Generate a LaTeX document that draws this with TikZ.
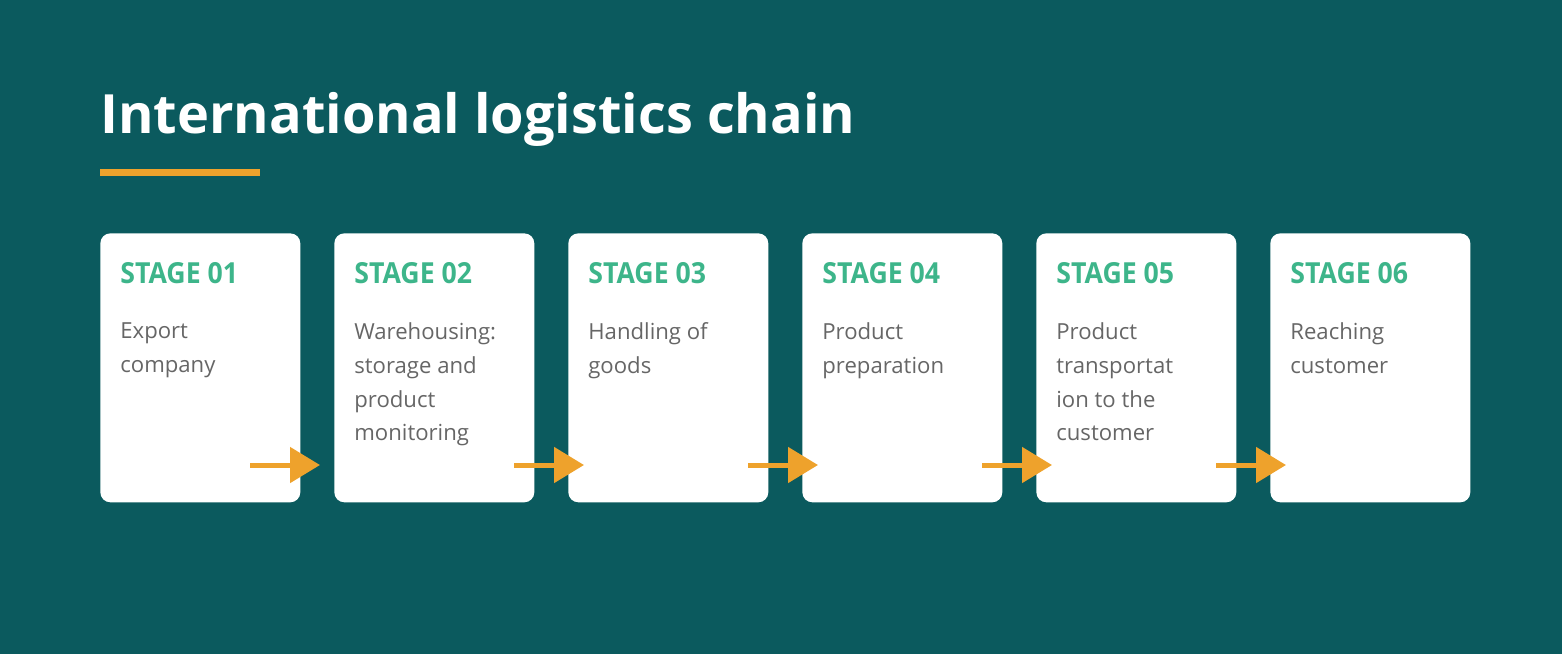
\documentclass[tikz,border=0pt]{standalone}
\usepackage{fontspec}
\setmainfont{Open Sans}
\usetikzlibrary{arrows.meta, positioning, calc}
\definecolor{bgteal}{HTML}{0B5A5E}
\definecolor{stagegreen}{HTML}{3DB58A}
\definecolor{chainorange}{HTML}{EEA22C}
\definecolor{bodygray}{HTML}{666666}
\begin{document}
\begin{tikzpicture}[x=0.02cm, y=-0.02cm,
  stagebox/.style={fill=white, rounded corners=0.2cm, minimum width=4cm, minimum height=5.38cm, inner sep=0pt},
  stagetitle/.style={anchor=base west, text=stagegreen, font=\fontsize{16.5}{20}\selectfont\bfseries, xscale=0.92, inner sep=0pt},
  stagetext/.style={anchor=north west, text=bodygray, align=left, font=\fontsize{12.6}{19.3}\selectfont, inner sep=0pt},
  flow/.style={chainorange, line width=0.1cm, -{Triangle[length=0.6cm, width=0.7cm]}}]

% Background
\fill[bgteal] (0,0) rectangle (1562,654);
\useasboundingbox (0,0) rectangle (1562,654);

% Title and underline
\node (title) [anchor=base west, text=white, font=\fontsize{30.8}{40}\selectfont\bfseries, inner sep=0pt] at (100,133) {International logistics chain};
\draw[chainorange, line width=0.14cm] (100,172) -- (260,172);

% Stage boxes
\foreach \i/\txt in {1/{Export\\company},
                     2/{Warehousing:\\storage and\\product\\monitoring},
                     3/{Handling of\\goods},
                     4/{Product\\preparation},
                     5/{Product\\transportat\\ion to the\\customer},
                     6/{Reaching\\customer}} {
  \node (stage\i) [stagebox, anchor=north west] at ({100+234*(\i-1)},233) {};
  \node (head\i) [stagetitle] at ($(stage\i.north west)+(20,50)$) {STAGE 0\i};
  \node (body\i) [stagetext] at ($(stage\i.north west)+(20,89)$) {\txt};
}

% Arrows between stages
\foreach \i/\s/\e [evaluate=\i as \j using int(\i+1)] in {1/250/320, 2/514/584, 3/748/818, 4/982/1052, 5/1216/1286} {
  \coordinate (out\i) at (\s,465);
  \coordinate (in\j) at (\e,465);
  \draw[flow] (out\i) -- (in\j);
}
\end{tikzpicture}
\end{document}
